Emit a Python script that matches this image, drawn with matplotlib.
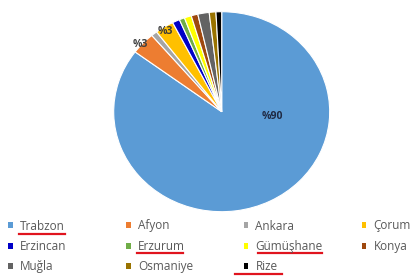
import matplotlib
matplotlib.use("Agg")
import matplotlib.pyplot as plt
from matplotlib.lines import Line2D

provinces = ["Trabzon", "Afyon", "Ankara", "Çorum", "Erzincan", "Erzurum",
             "Gümüşhane", "Konya", "Muğla", "Osmaniye", "Rize"]
shares = [85.2, 3.6, 0.9, 2.8, 1.1, 0.8, 1.05, 1.0, 1.7, 1.0, 0.85]
shown_labels = ["%90", "%3", "", "%3", "", "", "", "", "", "", ""]
colors = ["#5B9BD5", "#ED7D31", "#A5A5A5", "#FFC000", "#0000C8", "#70AD47",
          "#FFFF00", "#9E480E", "#636363", "#997300", "#000000"]
underlined = ["Trabzon", "Erzurum", "Gümüşhane", "Rize"]

W, H = 411, 278
fig = plt.figure(figsize=(W / 100, H / 100), dpi=100)
plt.rcParams['font.family'] = ['Open Sans', 'DejaVu Sans']

cx, cy, rx, ry = 221.7, 111.7, 108, 100
ax = fig.add_axes([(cx - rx) / W, (H - cy - ry) / H, 2 * rx / W, 2 * ry / H])
wedges, _ = ax.pie(shares, colors=colors, startangle=90, counterclock=False,
                   wedgeprops=dict(edgecolor="white", linewidth=0.8))
ax.set_aspect("auto")
ax.set_xlim(-1, 1)
ax.set_ylim(-1, 1)

# data labels
lab_pos = {0: (0.465, -0.05), 1: (-0.75, 0.67), 3: (-0.52, 0.8)}
lab_col = {0: "#1F2A44", 1: "#404040", 3: "#3A3A3A"}
for i, (x, y) in lab_pos.items():
    ax.text(x, y, shown_labels[i], ha="center", va="center", fontsize=7.5,
            fontweight="bold", color=lab_col[i])

# legend in 4 columns
col_x = [8.0, 126.0, 243.5, 361.5]
for c in range(4):
    idx = [c + 4 * r for r in range(3) if c + 4 * r < len(provinces)]
    leg = fig.legend([wedges[i] for i in idx], [provinces[i] for i in idx],
                     loc="upper left", bbox_to_anchor=(col_x[c] / W, 1 - 219.5 / H),
                     frameon=False, fontsize=8.5, handlelength=0.4, handleheight=0.4,
                     handletextpad=0.61, labelspacing=0.62, borderpad=0, borderaxespad=0,
                     labelcolor="#595959")
    for h in leg.legend_handles:
        h.set_edgecolor("none")

# red underlines
ul = {"Trabzon": (19, 65, 233.8), "Erzurum": (137, 183, 252.7),
      "Gümüşhane": (258, 322, 253), "Rize": (235, 282, 274)}
for name in underlined:
    x0, x1, y = ul[name]
    fig.add_artist(Line2D([x0 / W, x1 / W], [1 - y / H, 1 - y / H],
                          color="#E0141E", linewidth=1.6, transform=fig.transFigure))

fig.savefig("out.png", dpi=100)
